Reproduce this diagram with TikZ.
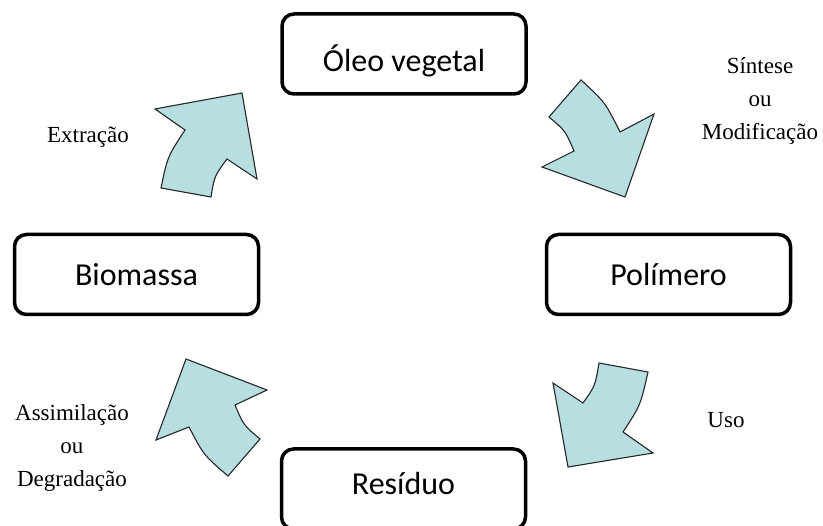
\documentclass[tikz,border=0pt]{standalone}
\usepackage{fontspec}
\setmainfont{Liberation Serif}
\newfontfamily\boxfont{Carlito}
\usepackage{tikz}

\begin{document}
\begin{tikzpicture}[x=1pt, y=-1pt,
		box_style/.style={rectangle,draw=black,line width=3.5pt,rounded corners=12pt,
			minimum width=244pt,minimum height=80pt,inner sep=0pt,
			font=\boxfont\fontsize{32}{38}\selectfont},
		label_style/.style={align=center,inner sep=0pt,font=\fontsize{23}{33}\selectfont},
		arrow_style/.style={draw=black!85,line width=1.1pt,fill=arrowfill,line join=miter}]
	\definecolor{arrowfill}{HTML}{B7DFE2}
	\useasboundingbox (0,0) rectangle (823,526);

	% caixas
	\node[box_style,text height=38pt,text depth=2pt] (oleo) at (404,54) {Óleo vegetal};
		\node[box_style] (polimero) at (668.5,274.5) {Polímero};
		\node[box_style,text height=18pt,text depth=6pt] (residuo) at (403.5,489) {Resíduo};
		\node[box_style] (biomassa) at (136.5,274.5) {Biomassa};

	% rotulos
	\node[label_style] (extracao) at (88,137) {Extração};
		\node[label_style] (sintese) at (760,100.5) {Síntese\\ou\\Modificação};
		\node[label_style] (uso) at (726,420) {Uso};
		\node[label_style] (assimilacao) at (72,448) {Assimilação\\ou\\Degradação};

	% setas curvas
	\draw[arrow_style] (155,109) -- (242,93) -- (257,179) -- (227,159)
		.. controls (214.4,176.1) .. (211,197) -- (161,188) .. controls (167.5,156.7) .. (185,130) -- cycle;
	\draw[arrow_style] (581,80) .. controls (605.3,102.4) .. (620,132) -- (654,114)
		-- (625,197) -- (542,167) -- (574,151) .. controls (565.5,131) .. (549,117) -- cycle;
	\draw[arrow_style] (599,363) -- (648,372) .. controls (640.5,405.3) .. (623,432)
		-- (653,453) -- (568,467) -- (553,383) -- (583,403) .. controls (595.2,385.8) .. cycle;
	\draw[arrow_style] (186,359) -- (267,390) -- (235,405) .. controls (243.6,425.2) .. (260,439)
		-- (228,476) .. controls (203.8,455.3) .. (189,427) -- (156,440) -- cycle;
\end{tikzpicture}
\end{document}
